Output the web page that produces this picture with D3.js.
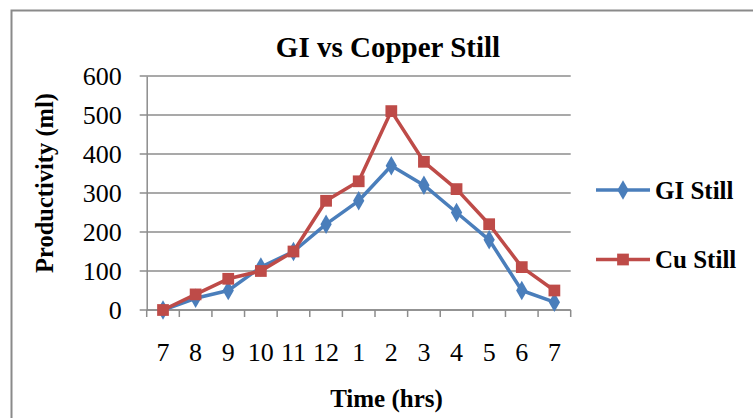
<!DOCTYPE html>
<html>
<head>
<meta charset="utf-8">
<script src="https://cdn.jsdelivr.net/npm/d3@7"></script>
<style>
  body { margin: 0; background: #fff; }
  svg { display: block; font-family: "Liberation Serif", "Times New Roman", serif; }
</style>
</head>
<body>
<svg id="chart" width="753" height="418"></svg>
<script>
// data
const hours = ["7", "8", "9", "10", "11", "12", "1", "2", "3", "4", "5", "6", "7"];
const giStill = [0, 30, 50, 110, 150, 220, 280, 370, 320, 250, 180, 50, 20];
const cuStill = [0, 40, 80, 100, 150, 280, 330, 510, 380, 310, 220, 110, 50];
const yTicks = [0, 100, 200, 300, 400, 500, 600];

const series = [
  { name: "GI Still", values: giStill, color: "#4A7EBB", marker: d3.symbolDiamond, size: 110 },
  { name: "Cu Still", values: cuStill, color: "#BE4B48", marker: d3.symbolSquare, size: 138 }
];

const svg = d3.select("#chart");
const plotLeft = 146.7, plotRight = 570.7, plotTop = 76, plotBottom = 310;

// chart frame (runs off the right and bottom of the picture)
svg.append("path")
  .attr("d", "M11.5,430 L11.5,10.5 L770,10.5")
  .attr("fill", "none")
  .attr("stroke", "#8a8a8a")
  .attr("stroke-width", 2);

const x = d3.scaleBand()
  .domain(d3.range(hours.length))
  .range([plotLeft, plotRight]);

const y = d3.scaleLinear()
  .domain([0, 600])
  .range([plotBottom, plotTop]);

// gridlines
svg.append("g")
  .selectAll("line")
  .data(yTicks)
  .join("line")
  .attr("x1", plotLeft - 7)
  .attr("x2", plotRight)
  .attr("y1", d => y(d))
  .attr("y2", d => y(d))
  .attr("stroke", "#8c8c8c")
  .attr("stroke-width", 1.5);

// y axis
const yAxis = svg.append("g")
  .attr("transform", "translate(" + plotLeft + ",0)")
  .call(d3.axisLeft(y).tickValues(yTicks).tickSize(0).tickPadding(25));
yAxis.select(".domain").attr("stroke", "#8c8c8c").attr("stroke-width", 1.5);
yAxis.selectAll("text")
  .attr("font-family", "Liberation Serif")
  .attr("font-size", 26)
  .attr("fill", "#000");

// x axis, ticks between categories
const xAxis = svg.append("g")
  .attr("transform", "translate(0," + plotBottom + ")")
  .call(d3.axisBottom(x).tickFormat(i => hours[i]).tickSize(0).tickPadding(33));
xAxis.select(".domain").attr("stroke", "#8c8c8c").attr("stroke-width", 1.5)
  .attr("d", "M" + plotLeft + ",0H" + plotRight);
xAxis.selectAll("text")
  .attr("font-family", "Liberation Serif")
  .attr("font-size", 26)
  .attr("fill", "#000");
svg.append("g")
  .selectAll("line")
  .data(d3.range(hours.length + 1))
  .join("line")
  .attr("x1", i => plotLeft + i * x.step())
  .attr("x2", i => plotLeft + i * x.step())
  .attr("y1", plotBottom)
  .attr("y2", plotBottom + 7)
  .attr("stroke", "#8c8c8c")
  .attr("stroke-width", 1.5);

// lines + markers
const line = d3.line()
  .x((d, i) => x(i) + x.bandwidth() / 2)
  .y(d => y(d));

series.forEach(s => {
  svg.append("path")
    .datum(s.values)
    .attr("d", line)
    .attr("fill", "none")
    .attr("stroke", s.color)
    .attr("stroke-width", 3.5)
    .attr("stroke-linejoin", "round");
  svg.append("g")
    .selectAll("path")
    .data(s.values)
    .join("path")
    .attr("d", d3.symbol().type(s.marker).size(s.size))
    .attr("transform", (d, i) => "translate(" + (x(i) + x.bandwidth() / 2) + "," + y(d) + ")")
    .attr("fill", s.color);
});

// legend
const legend = svg.append("g");
series.forEach((s, k) => {
  const ly = 190 + k * 69.5;
  legend.append("line")
    .attr("x1", 596).attr("x2", 650)
    .attr("y1", ly).attr("y2", ly)
    .attr("stroke", s.color)
    .attr("stroke-width", 3.5);
  legend.append("path")
    .attr("d", d3.symbol().type(s.marker).size(s.size))
    .attr("transform", "translate(623," + ly + ")")
    .attr("fill", s.color);
  legend.append("text")
    .attr("x", 655).attr("y", ly + 8.5)
    .attr("font-size", 25)
    .attr("font-weight", "bold")
    .text(s.name);
});

// titles
svg.append("text")
  .attr("x", 388).attr("y", 57)
  .attr("text-anchor", "middle")
  .attr("font-size", 29)
  .attr("font-weight", "bold")
  .text("GI vs Copper Still");

svg.append("text")
  .attr("x", 386.5).attr("y", 407)
  .attr("text-anchor", "middle")
  .attr("font-size", 25)
  .attr("font-weight", "bold")
  .text("Time (hrs)");

svg.append("text")
  .attr("transform", "translate(53,183) rotate(-90)")
  .attr("text-anchor", "middle")
  .attr("font-size", 24.5)
  .attr("font-weight", "bold")
  .text("Productivity (ml)");
</script>
</body>
</html>
